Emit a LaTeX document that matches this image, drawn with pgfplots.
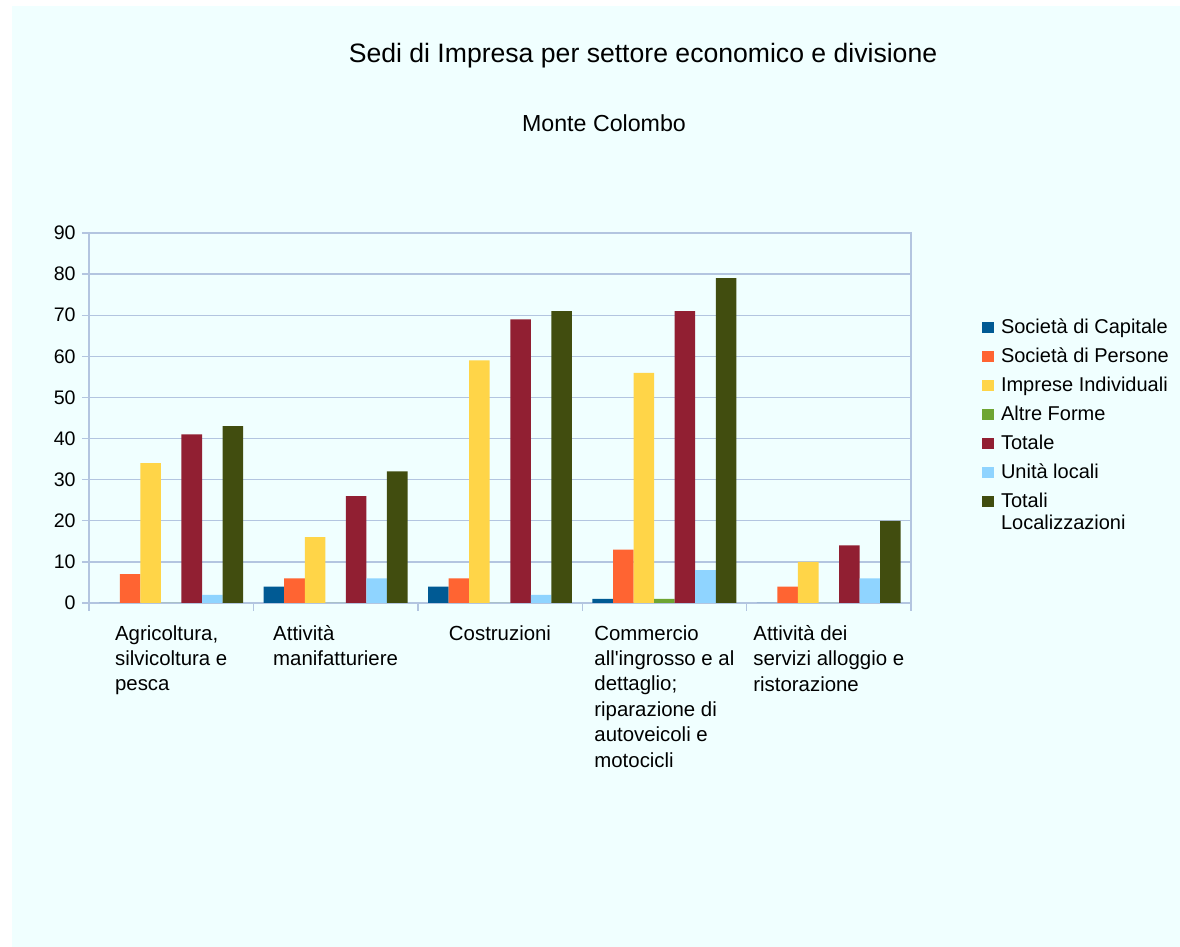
\documentclass[border=0pt]{standalone}
\usepackage{pgfplots}
\pgfplotsset{compat=1.18}
\usepackage{fontspec}
\setmainfont{Liberation Sans}
\definecolor{bg}{HTML}{F0FFFF}
\definecolor{gridc}{HTML}{B3C5E0}
\definecolor{c1}{HTML}{005A94}
\definecolor{c2}{HTML}{FF6432}
\definecolor{c3}{HTML}{FFD548}
\definecolor{c4}{HTML}{6EA532}
\definecolor{c5}{HTML}{911F32}
\definecolor{c6}{HTML}{8FD4FF}
\definecolor{c7}{HTML}{414D0F}
\begin{document}
\begin{tikzpicture}
\path[use as bounding box] (0,0) rectangle (590bp,473.5bp);
\fill[bg] (6bp,0) rectangle (590bp,470.5bp);
\node[font=\fontsize{13.3bp}{16bp}\selectfont] at (321.5bp,445.5bp) {Sedi di Impresa per settore economico e divisione};
\node[font=\fontsize{11.6bp}{14bp}\selectfont] at (302bp,412bp) {Monte Colombo};
\begin{axis}[
  at={(44.5bp,172bp)}, anchor=south west,
  scale only axis, width=411bp, height=185bp,
  xmin=-0.5, xmax=4.5, ymin=0, ymax=90,
  ytick={0,10,...,90},
  xtick={0,1,2,3,4},
  xticklabels={{Agricoltura,\\silvicoltura e\\pesca},{Attività\\manifatturiere},{Costruzioni},{Commercio\\all\textquotesingle ingrosso e al\\dettaglio;\\riparazione di\\autoveicoli e\\motocicli},{Attività dei\\servizi alloggio e\\ristorazione}},
  minor xtick={-0.5,0.5,1.5,2.5,3.5,4.5},
  major x tick style={draw=none},
  tick align=outside, tick pos=left,
  major tick length=3.5bp, minor tick length=4bp,
  tick style={gridc, line width=0.7bp},
  axis line style={gridc, line width=0.7bp},
  ymajorgrids, grid style={gridc, line width=0.7bp},
  /pgf/number format/assume math mode=true,
  yticklabel style={font=\fontsize{9.8bp}{12bp}\selectfont, anchor=east, inner sep=0pt, xshift=-3bp},
  xticklabel style={font=\fontsize{10.2bp}{12.7bp}\selectfont, align=left, anchor=north, inner sep=0pt, yshift=-7.5bp},
  ybar, bar width=0.125,
  every axis plot/.append style={draw=none},
  legend cell align=left,
  legend style={at={(1.0864,0.770)}, anchor=north west, inner sep=0pt, draw=none, fill=none,
    font=\fontsize{10bp}{12bp}\selectfont, row sep=4.5bp, column sep=3.5bp,
    cells={anchor=base west},
    nodes={inner sep=0pt, text height=7.5bp, text depth=2.5bp}},
  legend image code/.code={\fill[#1,draw=none] (0bp,0.2bp) rectangle (5.8bp,6bp);},
]
\addplot[fill=c1, bar shift=-0.375] coordinates {(0,0) (1,4) (2,4) (3,1) (4,0)};
\addlegendentry{Società di Capitale}
\addplot[fill=c2, bar shift=-0.25] coordinates {(0,7) (1,6) (2,6) (3,13) (4,4)};
\addlegendentry{Società di Persone}
\addplot[fill=c3, bar shift=-0.125] coordinates {(0,34) (1,16) (2,59) (3,56) (4,10)};
\addlegendentry{Imprese Individuali}
\addplot[fill=c4, bar shift=0] coordinates {(0,0) (1,0) (2,0) (3,1) (4,0)};
\addlegendentry{Altre Forme}
\addplot[fill=c5, bar shift=0.125] coordinates {(0,41) (1,26) (2,69) (3,71) (4,14)};
\addlegendentry{Totale}
\addplot[fill=c6, bar shift=0.25] coordinates {(0,2) (1,6) (2,2) (3,8) (4,6)};
\addlegendentry{Unità locali}
\addplot[fill=c7, bar shift=0.375] coordinates {(0,43) (1,32) (2,71) (3,79) (4,20)};
\addlegendentry{{\renewcommand\arraystretch{0.92}\begin{tabular}[t]{@{}l@{}}Totali\\Localizzazioni\end{tabular}}}
\end{axis}
\end{tikzpicture}
\end{document}
